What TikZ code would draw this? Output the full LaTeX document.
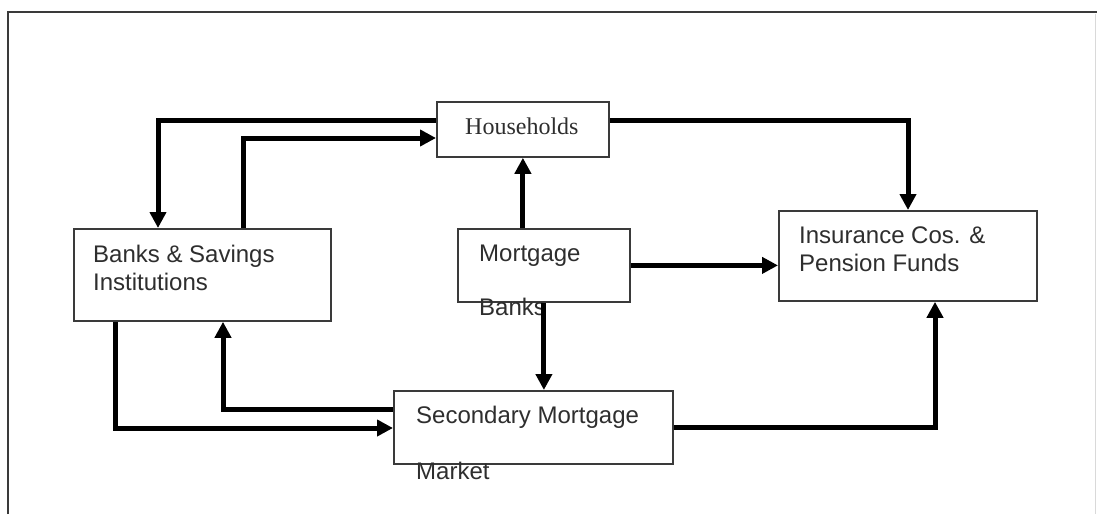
\documentclass[tikz,border=0pt]{standalone}
\usepackage{fontspec}
\setmainfont{Liberation Sans}
\newfontfamily\serifhh{Liberation Serif}
\usetikzlibrary{arrows.meta,calc}
\definecolor{boxline}{HTML}{3A3A3A}
\definecolor{txt}{HTML}{2E2E2E}
\begin{document}
\begin{tikzpicture}[x=1pt,y=-1pt,
  box/.style={draw=boxline,line width=1.8pt,fill=white,inner sep=0pt,anchor=north west},
  lbl/.style={anchor=base west,inner sep=0pt,text=txt,font=\fontsize{24}{29}\selectfont},
  arr/.style={draw=black,line width=5pt,-{Triangle[length=16pt,width=16pt]}}]
\useasboundingbox (0,0) rectangle (1097,514);
\fill[white] (0,0) rectangle (1097,514);
% frame
\draw[boxline,line width=2pt] (8,514) -- (8,12) -- (1097,12);
\draw[gray!30,line width=1pt] (1095,14) -- (1095,514);
% boxes
\node[box,minimum width=172pt,minimum height=55pt] (HH) at (436,101) {};
\node[box,minimum width=257pt,minimum height=92pt] (BS) at (73,228) {};
\node[box,minimum width=172pt,minimum height=73pt] (MB) at (457,228) {};
\node[box,minimum width=258pt,minimum height=90pt] (IC) at (778,210) {};
\node[box,minimum width=279pt,minimum height=73pt] (SM) at (393,390) {};
% texts
\node[lbl,font=\serifhh\fontsize{24}{29}\selectfont] (tHH) at (465,134) {Households};
\node[lbl] (tBS1) at (93,262) {Banks \& Savings};
\node[lbl] (tBS2) at (93,290) {Institutions};
\node[lbl] (tMB1) at (479,261) {Mortgage};
\node[lbl] (tMB2) at (479,315) {Banks};
\node[lbl] (tIC1) at (799,243) {Insurance Cos. \&};
\node[lbl] (tIC2) at (799,271) {Pension Funds};
\node[lbl] (tSM1) at (416,423) {Secondary Mortgage};
\node[lbl] (tSM2) at (416,479) {Market};
% helper coordinates
\coordinate (c1) at (158,120);
\coordinate (c2) at (243,138);
\coordinate (c3) at (908,120);
\coordinate (c7) at (223,409);
\coordinate (c8) at (115,428);
\coordinate (c9) at (935,427);
% connectors
\draw[arr] (HH.west |- c1) -| (c1 |- BS.north);
\draw[arr] (c2 |- BS.north) |- (HH.west |- c2);
\draw[arr] (HH.east |- c3) -| (c3 |- IC.north);
\draw[arr] (HH.south |- MB.north) -- (HH.south);
\draw[arr] (MB.east) -- (IC.west |- MB.east);
\draw[arr] (MB.south) -- (MB.south |- SM.north);
\draw[arr] (SM.west |- c7) -| (c7 |- BS.south);
\draw[arr] (c8 |- BS.south) |- (SM.west |- c8);
\draw[arr] (SM.east |- c9) -| (c9 |- IC.south);
\end{tikzpicture}
\end{document}
